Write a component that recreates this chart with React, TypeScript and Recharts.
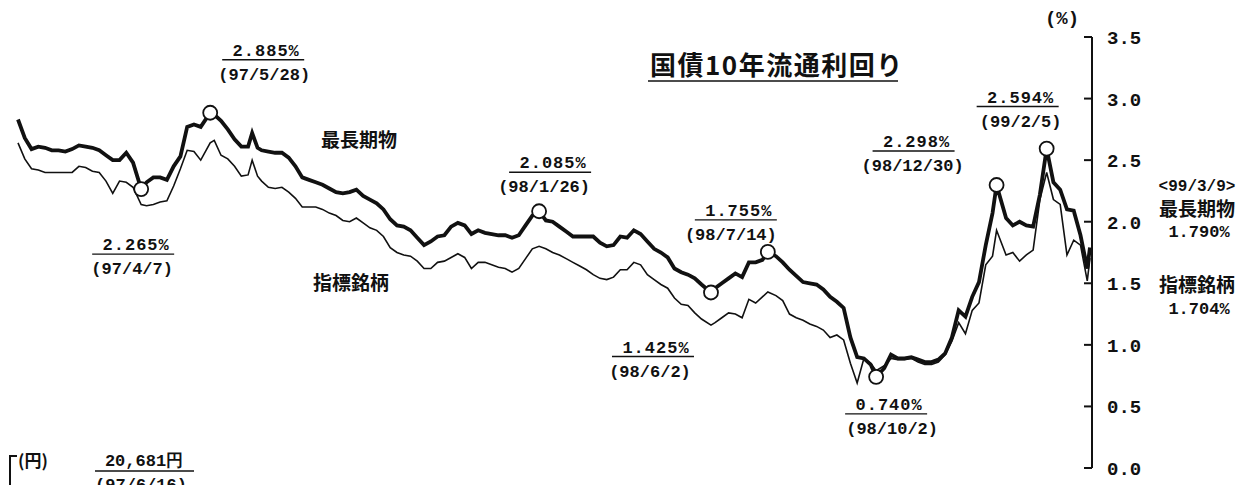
import React from 'react';
import { LineChart, Line, XAxis, YAxis, ReferenceDot } from 'recharts';

// days elapsed since 97/1/6
const days = [
  0, 5, 10, 15, 20, 25, 30, 35, 40, 45,
  50, 55, 60, 65, 70, 75, 80, 85, 91, 95,
  100, 105, 110, 115, 120, 125, 130, 135, 142, 145,
  150, 155, 160, 165, 170, 173, 177, 180, 185, 190,
  195, 200, 205, 210, 215, 220, 225, 230, 235, 240,
  245, 250, 255, 260, 265, 270, 275, 280, 285, 290,
  295, 300, 305, 310, 315, 320, 325, 330, 335, 340,
  345, 350, 355, 360, 365, 370, 375, 380, 385, 390,
  395, 400, 405, 410, 415, 420, 425, 430, 435, 440,
  445, 450, 455, 460, 465, 470, 475, 480, 485, 490,
  495, 500, 505, 512, 515, 520, 525, 530, 535, 540,
  545, 550, 554, 560, 565, 570, 575, 580, 585, 590,
  595, 600, 605, 610, 615, 620, 625, 630, 634, 640,
  645, 650, 655, 660, 665, 670, 675, 680, 685, 690,
  695, 700, 705, 710, 715, 720, 723, 730, 735, 740,
  745, 750, 755, 760, 765, 770, 775, 780, 785, 790,
  792,
];

// 最長期物 (%)
const longestYield = [
  2.83, 2.68, 2.59, 2.61, 2.60, 2.58, 2.58, 2.57, 2.59, 2.62,
  2.61, 2.60, 2.58, 2.54, 2.50, 2.50, 2.56, 2.48, 2.265, 2.32,
  2.36, 2.36, 2.34, 2.45, 2.53, 2.77, 2.79, 2.77, 2.885, 2.87,
  2.82, 2.75, 2.67, 2.61, 2.61, 2.72, 2.60, 2.58, 2.57, 2.56,
  2.56, 2.52, 2.45, 2.36, 2.34, 2.32, 2.30, 2.27, 2.24, 2.23,
  2.24, 2.26, 2.21, 2.18, 2.15, 2.10, 2.02, 1.97, 1.96, 1.93,
  1.87, 1.81, 1.84, 1.88, 1.89, 1.96, 1.99, 1.97, 1.90, 1.93,
  1.91, 1.90, 1.89, 1.89, 1.87, 1.89, 1.97, 2.05, 2.085, 2.01,
  2.00, 1.96, 1.92, 1.88, 1.88, 1.88, 1.88, 1.83, 1.80, 1.81,
  1.88, 1.87, 1.93, 1.90, 1.84, 1.78, 1.75, 1.71, 1.62, 1.59,
  1.57, 1.54, 1.49, 1.425, 1.46, 1.50, 1.54, 1.58, 1.55, 1.67,
  1.67, 1.69, 1.755, 1.72, 1.67, 1.61, 1.56, 1.51, 1.50, 1.49,
  1.45, 1.39, 1.35, 1.30, 1.06, 0.90, 0.89, 0.84, 0.74, 0.81,
  0.92, 0.89, 0.89, 0.90, 0.88, 0.86, 0.86, 0.88, 0.93, 1.06,
  1.28, 1.23, 1.39, 1.51, 1.81, 2.07, 2.298, 2.03, 1.97, 2.00,
  1.97, 1.96, 2.22, 2.594, 2.32, 2.26, 2.10, 2.09, 1.89, 1.62,
  1.79,
];

// 指標銘柄 (%)
const benchmarkYield = [
  2.64, 2.51, 2.43, 2.42, 2.40, 2.40, 2.40, 2.40, 2.40, 2.45,
  2.44, 2.41, 2.40, 2.33, 2.23, 2.33, 2.32, 2.28, 2.14, 2.13,
  2.14, 2.16, 2.17, 2.29, 2.43, 2.58, 2.57, 2.50, 2.64, 2.66,
  2.54, 2.51, 2.45, 2.37, 2.38, 2.50, 2.37, 2.33, 2.28, 2.27,
  2.28, 2.24, 2.19, 2.12, 2.12, 2.12, 2.10, 2.07, 2.05, 2.01,
  2.00, 2.03, 1.99, 1.95, 1.93, 1.88, 1.79, 1.75, 1.73, 1.72,
  1.68, 1.62, 1.62, 1.67, 1.68, 1.71, 1.74, 1.71, 1.62, 1.67,
  1.67, 1.65, 1.63, 1.62, 1.59, 1.62, 1.70, 1.78, 1.80, 1.78,
  1.75, 1.73, 1.70, 1.67, 1.64, 1.61, 1.57, 1.54, 1.53, 1.55,
  1.61, 1.61, 1.67, 1.65, 1.57, 1.53, 1.49, 1.46, 1.38, 1.33,
  1.32, 1.26, 1.21, 1.16, 1.18, 1.22, 1.26, 1.25, 1.22, 1.37,
  1.34, 1.39, 1.43, 1.40, 1.36, 1.25, 1.22, 1.20, 1.17, 1.15,
  1.12, 1.06, 1.08, 1.04, 0.85, 0.69, 0.89, 0.85, 0.79, 0.83,
  0.89, 0.88, 0.88, 0.89, 0.86, 0.84, 0.84, 0.86, 0.92, 1.03,
  1.18, 1.09, 1.28, 1.34, 1.65, 1.72, 1.93, 1.73, 1.75, 1.68,
  1.73, 1.77, 2.18, 2.40, 2.18, 2.14, 1.73, 1.85, 1.81, 1.52,
  1.704,
];

const yTicks = [0, 0.5, 1, 1.5, 2, 2.5, 3, 3.5];

// circled highs / lows of 最長期物
const peakDays = [91, 142, 385, 512, 554, 634, 723, 760];
const peakValues = [2.265, 2.885, 2.085, 1.425, 1.755, 0.74, 2.298, 2.594];
const peakTexts = ['2.265%', '2.885%', '2.085%', '1.425%', '1.755%', '0.740%', '2.298%', '2.594%'];
const peakDates = ['(97/4/7)', '(97/5/28)', '(98/1/26)', '(98/6/2)', '(98/7/14)', '(98/10/2)', '(98/12/30)', '(99/2/5)'];
// label placement relative to the circle: [dx of value, dy of value baseline, dx of date]
const peakOffsets = [
  [-5, 61, -9], [56, -57, 54], [14, -43, 5], [-55, 60, -61],
  [-29, -36, -37], [13, 33, 16], [-80, -38, -84], [-26, -46, -26],
];

const data = days.map((d, i) => ({ day: d, longest: longestYield[i], benchmark: benchmarkYield[i] }));

const NUM = '"Liberation Mono", monospace';
const JP = '"Noto Sans CJK JP", sans-serif';
const INK = '#111';

const YTick = (props: any) => {
  const { x, y, payload } = props;
  return (
    <g>
      <line x1={x - 8} x2={x} y1={y} y2={y} stroke={INK} strokeWidth={2} />
      <text x={x + 15} y={y + 7} fontFamily={NUM} fontSize={19} fontWeight="bold" fill={INK}>
        {Number(payload.value).toFixed(1)}
      </text>
    </g>
  );
};

const Callout = (props: any) => {
  const { viewBox, txt, dateTxt, ox, oy, odx } = props;
  if (!viewBox) return null;
  const cx = viewBox.x + viewBox.width / 2;
  const cy = viewBox.y + viewBox.height / 2;
  const x = cx + ox;
  const y = cy + oy;
  return (
    <g>
      <text x={x} y={y} textAnchor="middle" fontFamily={NUM} fontSize={17} fontWeight="bold" letterSpacing={1} fill={INK}>
        {txt}
      </text>
      <line x1={x - 44} x2={x + 38} y1={y + 4} y2={y + 4} stroke={INK} strokeWidth={1.4} />
      <text x={cx + odx} y={y + 24} textAnchor="middle" fontFamily={NUM} fontSize={17} fontWeight="bold" fill={INK}>
        {dateTxt}
      </text>
    </g>
  );
};

export default function App() {
  return (
    <div style={{ position: 'absolute', left: 0, top: 0, width: 1256, height: 485, background: '#fff', overflow: 'hidden' }}>
      <LineChart width={1256} height={485} data={data} margin={{ top: 37, right: 104, bottom: 17, left: 18 }}>
        <XAxis dataKey="day" type="number" domain={[0, 793.5]} hide />
        <YAxis
          orientation="right"
          domain={[0, 3.5]}
          ticks={yTicks}
          width={60}
          tickSize={0}
          tickMargin={0}
          tickLine={false}
          axisLine={{ stroke: INK, strokeWidth: 2 }}
          tick={<YTick />}
          interval={0}
        />
        <Line type="linear" dataKey="benchmark" stroke={INK} strokeWidth={1.6} dot={false} isAnimationActive={false} />
        <Line type="linear" dataKey="longest" stroke={INK} strokeWidth={3.8} dot={false} isAnimationActive={false} />
        {peakDays.map((d, i) => (
          <ReferenceDot
            key={d}
            x={d}
            y={peakValues[i]}
            r={7}
            fill="#fff"
            stroke={INK}
            strokeWidth={1.8}
            label={<Callout txt={peakTexts[i]} dateTxt={peakDates[i]} ox={peakOffsets[i][0]} oy={peakOffsets[i][1]} odx={peakOffsets[i][2]} />}
          />
        ))}
      </LineChart>
      <svg width={1256} height={485} style={{ position: 'absolute', left: 0, top: 0, pointerEvents: 'none' }}>
        <text x={650} y={75} fontFamily={JP} fontSize={26} fontWeight="bold" letterSpacing={1.5} fill={INK}>国債10年流通利回り</text>
        <line x1={648} x2={898} y1={81} y2={81} stroke={INK} strokeWidth={1.6} />
        <text x={359} y={147} textAnchor="middle" fontFamily={JP} fontSize={19} fontWeight="bold" fill={INK}>最長期物</text>
        <text x={351} y={290} textAnchor="middle" fontFamily={JP} fontSize={19} fontWeight="bold" fill={INK}>指標銘柄</text>
        <text x={1062} y={24} textAnchor="middle" fontFamily={NUM} fontSize={19} fontWeight="bold" fill={INK}>(%)</text>
        <text x={1197} y={191} textAnchor="middle" fontFamily={NUM} fontSize={16} fontWeight="bold" fill={INK}>&lt;99/3/9&gt;</text>
        <text x={1197} y={216} textAnchor="middle" fontFamily={JP} fontSize={19} fontWeight="bold" fill={INK}>最長期物</text>
        <text x={1199} y={237} textAnchor="middle" fontFamily={NUM} fontSize={17} fontWeight="bold" fill={INK}>1.790%</text>
        <text x={1197} y={292} textAnchor="middle" fontFamily={JP} fontSize={19} fontWeight="bold" fill={INK}>指標銘柄</text>
        <text x={1199} y={314} textAnchor="middle" fontFamily={NUM} fontSize={17} fontWeight="bold" fill={INK}>1.704%</text>
        <polyline points="10,485 10,456 17,456" fill="none" stroke={INK} strokeWidth={2} />
        <text x={18} y={467} fontFamily={JP} fontSize={17} fontWeight="bold" fill={INK}>(円)</text>
        <text x={144} y={466} textAnchor="middle" fontFamily={NUM} fontSize={17} fontWeight="bold" fill={INK}>20,681円</text>
        <line x1={95} x2={194} y1={471} y2={471} stroke={INK} strokeWidth={1.4} />
        <text x={141} y={490} textAnchor="middle" fontFamily={NUM} fontSize={17} fontWeight="bold" fill={INK}>(97/6/16)</text>
      </svg>
    </div>
  );
}
